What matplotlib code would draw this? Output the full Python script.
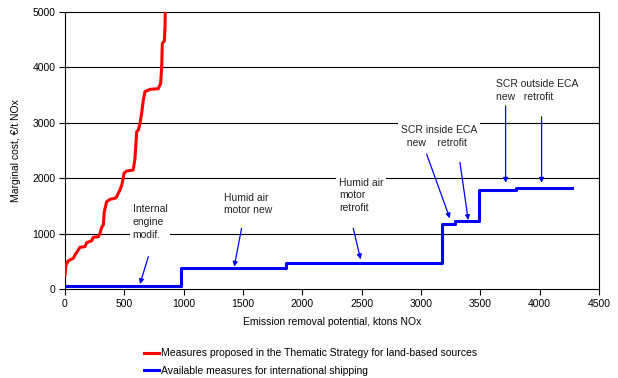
import numpy as np
import matplotlib.pyplot as plt

plt.rcParams['font.family'] = ['Liberation Sans', 'DejaVu Sans']

# red: land-based measures (cumulative potential vs marginal cost)
land_x = [0, 8, 28, 70, 84, 112, 126, 168, 183, 225, 238, 281, 295, 309, 323,
          331, 351, 379, 421, 436, 449, 463, 478, 491, 497, 520, 575, 590,
          604, 618, 632, 646, 660, 674, 716, 786, 806, 815, 820, 837, 843, 845]
land_y = [253, 433, 511, 554, 614, 704, 753, 764, 836, 872, 933, 944, 1005,
          1113, 1155, 1396, 1576, 1619, 1637, 1666, 1727, 1787, 1877, 1998,
          2088, 2130, 2148, 2358, 2840, 2870, 2990, 3170, 3410, 3562, 3604,
          3615, 3712, 4013, 4434, 4476, 4735, 5000]

# blue: shipping measures (step curve)
ship_x = [0, 980, 1860, 3180, 3290, 3490, 3800, 4270]
ship_y = [60, 385, 475, 1170, 1220, 1785, 1815, 1815]

fig = plt.figure(figsize=(6.18, 3.78), dpi=100)
ax = fig.add_axes([65/618, 1-289/378, 534/618, 277/378])

for yv in [1000, 2000, 3000, 4000]:
    ax.axhline(yv, color='black', lw=0.8, zorder=1)

l1, = ax.plot(land_x, land_y, color='#ff0000', lw=2.2, zorder=4,
              label='Measures proposed in the Thematic Strategy for land-based sources')
l2, = ax.plot(ship_x, ship_y, color='#0000ff', lw=2.2, drawstyle='steps-post', zorder=4,
              label='Available measures for international shipping')

tkw = dict(fontsize=7.5, va='top', ha='left', linespacing=1.35, color='#222222', zorder=3,
           bbox=dict(facecolor='white', edgecolor='none', pad=2))
ax.text(570, 1530, "Internal\nengine\nmodif.", **tkw)
ax.text(1340, 1740, "Humid air\nmotor new", **tkw)
ax.text(2308, 2010, "Humid air\nmotor\nretrofit", **tkw)
ax.text(2831, 2955, "SCR inside ECA\n  new    retrofit", **tkw)
ax.text(3631, 3785, "SCR outside ECA\nnew   retrofit", **tkw)

arrows = [((702, 583), (632, 90)),
          ((1488, 1096), (1426, 403)),
          ((2429, 1096), (2491, 536)),
          ((3047, 2437), (3243, 1276)),
          ((3328, 2287), (3398, 1245)),
          ((3713, 3303), (3713, 1919)),
          ((4016, 3110), (4016, 1919))]
for start, end in arrows:
    ax.annotate("", xy=end, xytext=start, zorder=5,
                arrowprops=dict(arrowstyle='-|>', color='#0000ff', lw=0.9,
                                mutation_scale=7, shrinkA=0, shrinkB=0))

ax.set_xlim(0, 4500)
ax.set_ylim(0, 5000)
ax.set_xticks(np.arange(0, 4501, 500))
ax.set_yticks(np.arange(0, 5001, 1000))
ax.tick_params(direction='out', length=4, width=0.8, labelsize=7.5, pad=3)
for s in ax.spines.values():
    s.set_color('black')
    s.set_linewidth(0.8)
ax.set_xlabel("Emission removal potential, ktons NOx", fontsize=7.5, labelpad=6)
ax.set_ylabel("Marginal cost, \u20ac/t NOx", fontsize=7.5, labelpad=8)

fig.legend(handles=[l1, l2], loc='upper left', bbox_to_anchor=(140/618, 1-344/378),
           frameon=False, fontsize=7.5, handlelength=1.4, handletextpad=0.2,
           labelspacing=0.75, borderaxespad=0)

plt.savefig("out.png", dpi=100)
